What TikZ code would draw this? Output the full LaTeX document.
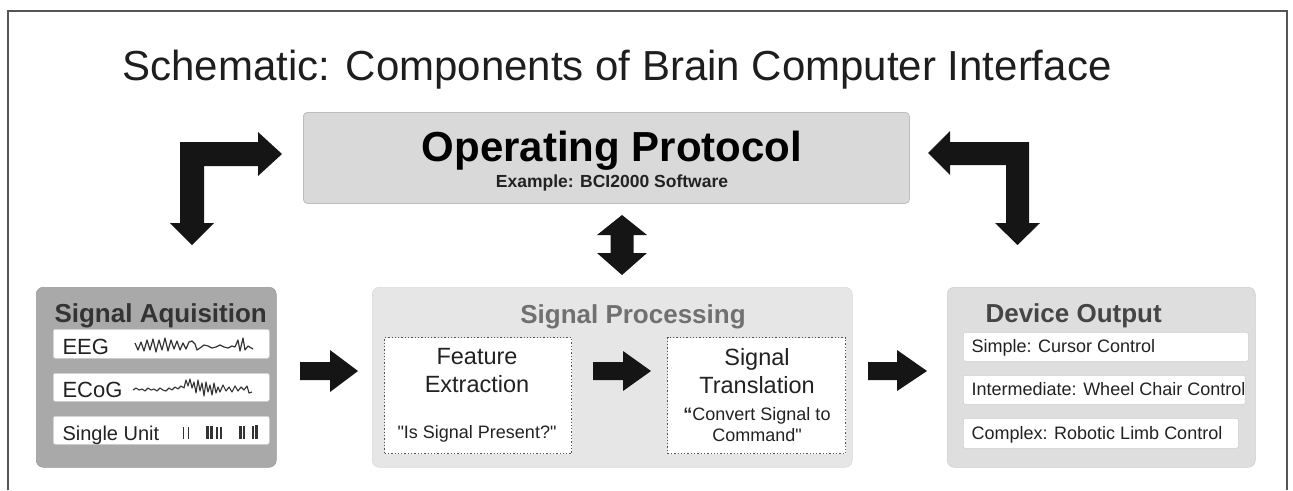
\documentclass[tikz,border=0pt]{standalone}
\usepackage{fontspec}
\setmainfont{Liberation Sans}
\newfontfamily\qfont{Liberation Sans}[Ligatures=TeXOff]
\definecolor{framec}{HTML}{555555}
\definecolor{titlec}{HTML}{1E1E1E}
\definecolor{arrowc}{HTML}{151515}
\definecolor{opfill}{HTML}{D9D9D9}
\definecolor{opdraw}{HTML}{BDBDBD}
\definecolor{acqfill}{HTML}{A9A9A9}
\definecolor{procfill}{HTML}{E6E6E6}
\definecolor{devfill}{HTML}{DEDEDE}
\definecolor{stripdraw}{HTML}{CFCFCF}
\definecolor{dotc}{HTML}{555555}
\definecolor{acqtitle}{HTML}{333333}
\definecolor{proctitle}{HTML}{707070}
\definecolor{devtitle}{HTML}{454545}
\definecolor{txtc}{HTML}{222222}
\definecolor{wavec}{HTML}{333333}
\tikzset{
  framestyle/.style={draw=framec, line width=1.5pt},
  bigbox/.style={anchor=north west, inner sep=0pt, rounded corners=7pt},
  strip/.style={anchor=north west, inner sep=0pt, fill=white, draw=stripdraw, line width=0.6pt, rounded corners=2pt},
  dotbox/.style={anchor=north west, inner sep=0pt, fill=white, draw=dotc, dotted, line width=1.3pt},
  blockarrow/.style={fill=arrowc, draw=none},
  wave/.style={draw=wavec, line width=1.2pt, line join=round},
  spike/.style={fill=wavec, draw=none},
  ttl/.style={anchor=base, font=\bfseries\fontsize{26}{30}\selectfont},
  lbl/.style={anchor=base, text=txtc},
}
\begin{document}
\begin{tikzpicture}[x=1pt,y=-1pt]
\useasboundingbox (0,0) rectangle (1293,490);
% frame
\draw[framestyle] (8,490) -- (8,11) -- (1287,11) -- (1287,490);
% title
\node[anchor=base, text=titlec, font=\fontsize{42}{48}\selectfont] (title) at (617,80) {Schematic: Components of Brain Computer Interface};

% operating protocol
\node[anchor=north west, inner sep=0pt, rounded corners=4pt, fill=opfill, draw=opdraw, line width=0.8pt, minimum width=606pt, minimum height=91pt] (op) at (303,112) {};
\node[anchor=base, text=black, font=\bfseries\fontsize{42}{48}\selectfont] (optitle) at (612,161) {Operating Protocol};
\node[anchor=base, text=txtc, font=\bfseries\fontsize{17.5}{20}\selectfont] (opex) at (612,187) {Example: BCI2000 Software};

% bottom boxes
\node[bigbox, fill=acqfill, draw=acqfill!90!black, line width=0.5pt, minimum width=240pt, minimum height=180pt] (acq) at (36,287) {};
\node[bigbox, fill=procfill, draw=procfill!95!black, line width=0.5pt, minimum width=480pt, minimum height=180pt] (proc) at (372,287) {};
\node[bigbox, fill=devfill, draw=devfill!92!black, line width=0.5pt, minimum width=308pt, minimum height=180pt] (dev) at (947,287) {};

\node[ttl, anchor=base west, text=acqtitle] (acqtitle) at (51,322) {Signal Aquisition};
\node[ttl, text=proctitle] (proctitle) at (633,323) {Signal Processing};
\node[ttl, anchor=base west, text=devtitle] (devtitle) at (982,322) {Device Output};

% acquisition strips
\node[strip, minimum width=216pt, minimum height=29pt] (eeg) at (53,329) {};
\node[strip, minimum width=216pt, minimum height=28pt] (ecog) at (53,373) {};
\node[strip, minimum width=216pt, minimum height=28pt] (su) at (53,416) {};
\node[lbl, anchor=base west, font=\fontsize{22}{26}\selectfont] (eegt) at (59,354) {EEG};
\node[lbl, anchor=base west, font=\fontsize{22}{26}\selectfont] (ecogt) at (59,397) {ECoG};
\node[lbl, anchor=base west, font=\fontsize{20}{24}\selectfont] (sut) at (59,440) {Single Unit};

% EEG wave
\draw[wave] (135,343) -- (138,350) -- (141,342) -- (144,351) -- (147,340) -- (150,350) -- (153,339) -- (156,352) -- (159,340) -- (162,350) -- (165,338) -- (168,351) -- (171,340) -- (174,349) -- (177,341) -- (180,350) -- (183,343) -- (186,349) -- (189,342) -- (192,341) -- (195,344) -- (197,350) -- (200,348) -- (204,345) -- (208,346) -- (212,348) -- (216,347) -- (220,345) -- (224,347) -- (228,348) -- (232,346) -- (235,347) -- (238,340) -- (240,351) -- (243,338) -- (245,350) -- (248,346) -- (253,349);
% ECoG wave
\draw[wave, line width=1.1pt] (133,390) -- (136,388) -- (139,390) -- (142,389) -- (145,391) -- (148,388) -- (151,390) -- (154,389) -- (157,391) -- (160,388) -- (163,390) -- (166,391) -- (169,388) -- (172,390) -- (175,387) -- (178,389) -- (181,386) -- (184,388) -- (186,380) -- (188,386) -- (190,379) -- (192,388) -- (194,382) -- (196,393) -- (198,380) -- (200,391) -- (202,383) -- (204,396) -- (206,382) -- (208,392) -- (210,385) -- (212,395) -- (214,383) -- (216,393) -- (218,387) -- (220,392) -- (223,385) -- (226,391) -- (229,387) -- (232,392) -- (235,386) -- (238,391) -- (241,387) -- (244,390) -- (247,386) -- (249,393) -- (252,392);
% single unit spikes
\fill[spike] (182.5,427) rectangle (184,439);
\fill[spike] (187.5,427) rectangle (189,439);
\fill[spike] (206,426) rectangle (208.5,439);
\fill[spike] (209.5,426) rectangle (212.5,439);
\fill[spike] (216,427) rectangle (217.5,439);
\fill[spike] (220,427) rectangle (221.5,439);
\fill[spike] (239,426) rectangle (241.5,439);
\fill[spike] (242.5,426) rectangle (245,439);
\fill[spike] (252,426) rectangle (254,439);
\fill[spike] (255,425) rectangle (258,439);

% processing sub-boxes
\node[dotbox, minimum width=187pt, minimum height=116pt] (fe) at (384,337) {};
\node[dotbox, minimum width=178pt, minimum height=116pt] (st) at (667,337) {};
\node[lbl, font=\fontsize{23.5}{28}\selectfont] (fe1) at (477,364) {Feature};
\node[lbl, font=\fontsize{23.5}{28}\selectfont] (fe2) at (477,392) {Extraction};
\node[lbl, font=\fontsize{18}{21}\selectfont] (fe3) at (477,438) {{\qfont "}Is Signal Present?{\qfont "}};
\node[lbl, font=\fontsize{23.5}{28}\selectfont] (st1) at (757,365) {Signal};
\node[lbl, font=\fontsize{23.5}{28}\selectfont] (st2) at (757,393) {Translation};
\node[lbl, font=\fontsize{18}{21}\selectfont] (st3) at (757,420) {{\bfseries “}Convert Signal to};
\node[lbl, font=\fontsize{18}{21}\selectfont] (st4) at (757,441) {Command{\qfont "}};

% device strips
\node[strip, minimum width=285pt, minimum height=29pt] (d1) at (963,332) {};
\node[strip, minimum width=282pt, minimum height=29pt] (d2) at (963,375) {};
\node[strip, minimum width=275pt, minimum height=30pt] (d3) at (963,418) {};
\node[lbl, anchor=base west, font=\fontsize{18}{21}\selectfont] (d1t) at (968,352) {Simple: Cursor Control};
\node[lbl, anchor=base west, font=\fontsize{18}{21}\selectfont] (d2t) at (968,395) {Intermediate: Wheel Chair Control};
\node[lbl, anchor=base west, font=\fontsize{18}{21}\selectfont] (d3t) at (968,439) {Complex: Robotic Limb Control};

% block arrows
% left L arrow
\fill[blockarrow] (180,142) -- (258,142) -- (258,132) -- (282,154) -- (258,176) -- (258,166) -- (204,166) -- (204,223) -- (214,223) -- (192,245) -- (170,223) -- (180,223) -- cycle;
% right L arrow
\fill[blockarrow] (1029,142) -- (950,142) -- (950,131) -- (928,153) -- (950,175) -- (950,165) -- (1006,165) -- (1006,223) -- (995,223) -- (1017.5,245) -- (1040,223) -- (1029,223) -- cycle;
% centre double arrow
\fill[blockarrow] (622,215) -- (647,235) -- (633.5,235) -- (633.5,253) -- (647,253) -- (622,275) -- (597,253) -- (610.5,253) -- (610.5,235) -- (597,235) -- cycle;
% horizontal arrows
\fill[blockarrow] (300,362) -- (330,362) -- (330,350) -- (358,371) -- (330,392) -- (330,380) -- (300,380) -- cycle;
\fill[blockarrow] (593,362) -- (623,362) -- (623,351) -- (651,371) -- (623,391) -- (623,380) -- (593,380) -- cycle;
\fill[blockarrow] (868,362) -- (897,362) -- (897,350) -- (927,371) -- (897,391) -- (897,380) -- (868,380) -- cycle;
\end{tikzpicture}
\end{document}
